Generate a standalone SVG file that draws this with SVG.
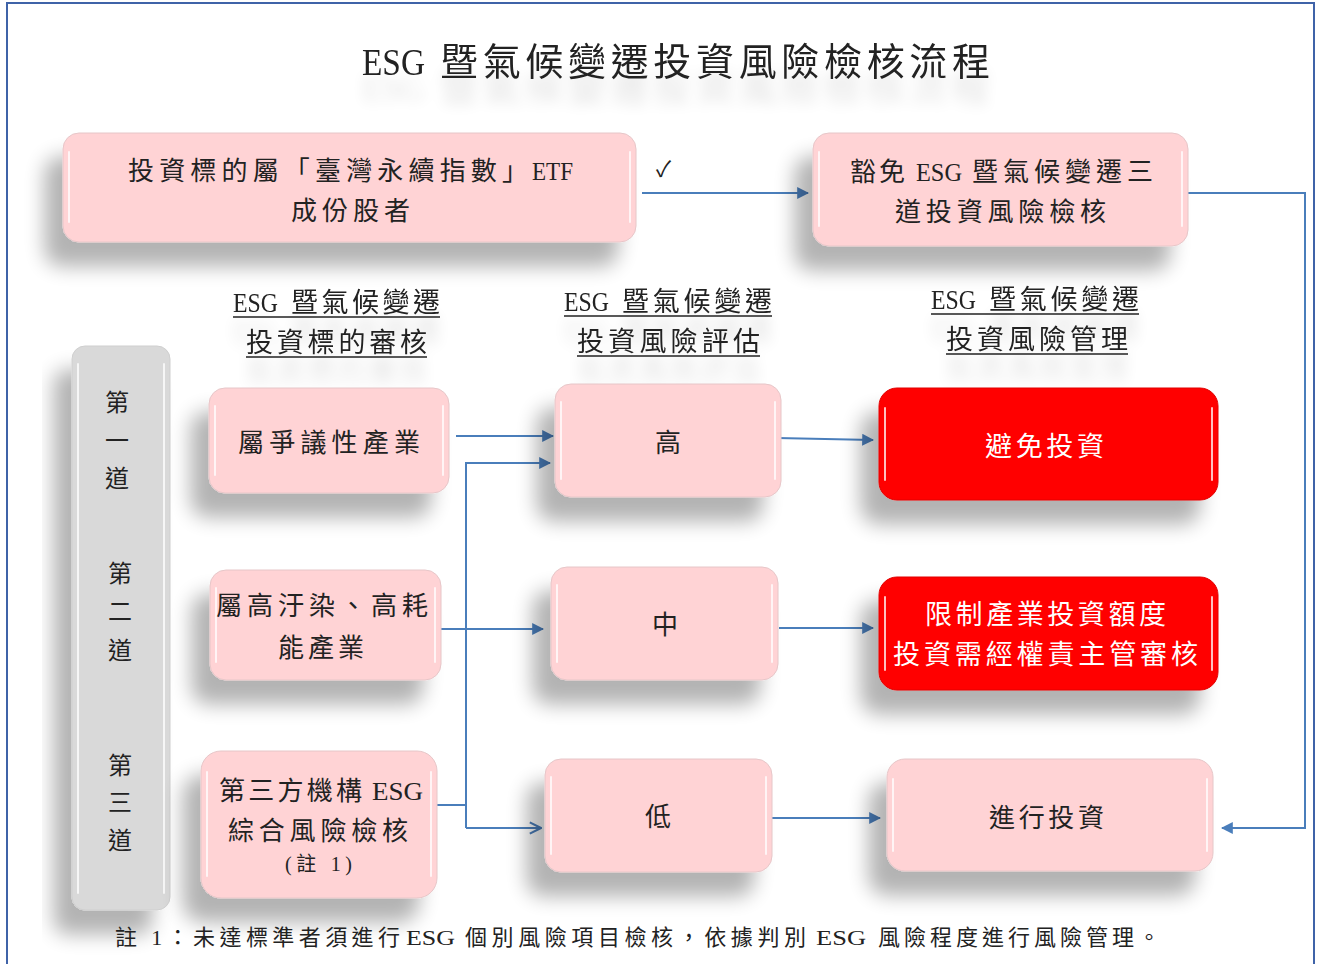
<svg xmlns="http://www.w3.org/2000/svg" width="1320" height="964" viewBox="0 0 1320 964">
<style>
.t{font-family:"Liberation Serif","Noto Sans CJK TC",serif;fill:#222;}
.c{text-anchor:middle;}
.pink{fill:#ffd3d5;stroke:#e6c6c8;stroke-width:1;}
.red{fill:#ff0000;stroke:#e00000;stroke-width:1;}
.gray{fill:#d9d9d9;stroke:#cfcfcf;stroke-width:1;}
.hl{stroke:#fff;stroke-width:2;stroke-linecap:round;fill:none;opacity:0.75;}
.w{fill:#fff;}
.ln{stroke:#4a7ebb;stroke-width:2;fill:none;}
.ul{stroke:#222;stroke-width:1.5;}
</style>
<defs>
<filter id="sh" x="-30%" y="-30%" width="160%" height="190%">
<feGaussianBlur in="SourceAlpha" stdDeviation="10"/>
<feOffset dx="-18" dy="24" result="o"/>
<feComponentTransfer><feFuncA type="linear" slope="0.3"/></feComponentTransfer>
<feMerge><feMergeNode/><feMergeNode in="SourceGraphic"/></feMerge>
</filter>
<filter id="tsh" x="-10%" y="-50%" width="120%" height="250%">
<feGaussianBlur in="SourceAlpha" stdDeviation="7"/>
<feOffset dx="0" dy="26"/>
<feComponentTransfer><feFuncA type="linear" slope="0.12"/></feComponentTransfer>
<feMerge><feMergeNode/><feMergeNode in="SourceGraphic"/></feMerge>
</filter>
<marker id="ar2" viewBox="0 0 10 10" refX="9" refY="5" markerWidth="6" markerHeight="6" orient="auto">
<path d="M0,0 L10,5 L0,10 z" fill="#4a7ebb"/>
</marker>
<marker id="op" viewBox="0 0 10 10" refX="9" refY="5" markerWidth="7" markerHeight="7" orient="auto">
<path d="M1,1 L9,5 L1,9" fill="none" stroke="#4a7ebb" stroke-width="1.5"/>
</marker>
</defs>
<rect x="0" y="0" width="1320" height="964" fill="#fff"/>
<rect x="7" y="3" width="1307" height="975" fill="none" stroke="#3f63a8" stroke-width="2"/>

<g id="title" filter="url(#tsh)">
<text class="t" x="362" y="75" font-size="38" textLength="63" lengthAdjust="spacingAndGlyphs">ESG</text>
<text class="t" x="440" y="75" font-size="38" textLength="550" lengthAdjust="spacing">暨氣候變遷投資風險檢核流程</text>
</g>

<g id="connectors">
<line class="ln" x1="642" y1="193" x2="808" y2="193" marker-end="url(#ar2)"/>
<polyline class="ln" points="1188,193 1305,193 1305,828 1222,828" marker-end="url(#ar2)"/>
<line class="ln" x1="456" y1="436" x2="553" y2="436" marker-end="url(#ar2)"/>
<polyline class="ln" points="466,828 466,463 550,463" marker-end="url(#ar2)"/>
<line class="ln" x1="466" y1="828" x2="541" y2="828" marker-end="url(#op)"/>
<line class="ln" x1="437" y1="805" x2="466" y2="805"/>
<line class="ln" x1="441" y1="629" x2="543" y2="629" marker-end="url(#ar2)"/>
<line class="ln" x1="777" y1="438" x2="873" y2="440" marker-end="url(#ar2)"/>
<line class="ln" x1="779" y1="628" x2="873" y2="628" marker-end="url(#ar2)"/>
<line class="ln" x1="772" y1="818" x2="880" y2="818" marker-end="url(#ar2)"/>
</g>
<text class="t" x="656" y="177" font-size="22">✓</text>

<g id="n_etf">
<rect class="pink" x="63" y="133" width="573" height="109" rx="16" filter="url(#sh)"/>
<line class="hl" x1="69" y1="152" x2="69" y2="222"/><line class="hl" x1="630" y1="152" x2="630" y2="222"/>
<text class="t" x="128" y="180" font-size="26" textLength="400" lengthAdjust="spacing">投資標的屬「臺灣永續指數」</text>
<text class="t" x="532" y="180" font-size="26" textLength="41" lengthAdjust="spacingAndGlyphs">ETF</text>
<text class="t" x="291" y="220" font-size="26" textLength="119" lengthAdjust="spacing">成份股者</text>
</g>

<g id="n_exempt">
<rect class="pink" x="813" y="133" width="375" height="113" rx="16" filter="url(#sh)"/>
<line class="hl" x1="819" y1="152" x2="819" y2="226"/><line class="hl" x1="1182" y1="152" x2="1182" y2="226"/>
<text class="t" x="850" y="181" font-size="26" textLength="55" lengthAdjust="spacing">豁免</text>
<text class="t" x="916" y="181" font-size="26" textLength="46" lengthAdjust="spacingAndGlyphs">ESG</text>
<text class="t" x="972" y="181" font-size="26" textLength="181" lengthAdjust="spacing">暨氣候變遷三</text>
<text class="t" x="895" y="221" font-size="26" textLength="211" lengthAdjust="spacing">道投資風險檢核</text>
</g>

<g id="h1" filter="url(#tsh)">
<text class="t" x="233" y="312" font-size="27" textLength="45" lengthAdjust="spacingAndGlyphs">ESG</text>
<text class="t" x="291" y="312" font-size="27" textLength="149" lengthAdjust="spacing">暨氣候變遷</text>
<text class="t" x="246" y="352" font-size="27" textLength="181" lengthAdjust="spacing">投資標的審核</text>
<line class="ul" x1="233" y1="317" x2="440" y2="317"/><line class="ul" x1="246" y1="357" x2="427" y2="357"/>
</g>
<g id="h2" filter="url(#tsh)">
<text class="t" x="564" y="311" font-size="27" textLength="45" lengthAdjust="spacingAndGlyphs">ESG</text>
<text class="t" x="622" y="311" font-size="27" textLength="150" lengthAdjust="spacing">暨氣候變遷</text>
<text class="t" x="577" y="351" font-size="27" textLength="183" lengthAdjust="spacing">投資風險評估</text>
<line class="ul" x1="564" y1="316" x2="772" y2="316"/><line class="ul" x1="577" y1="356" x2="760" y2="356"/>
</g>
<g id="h3" filter="url(#tsh)">
<text class="t" x="931" y="309" font-size="27" textLength="45" lengthAdjust="spacingAndGlyphs">ESG</text>
<text class="t" x="989" y="309" font-size="27" textLength="150" lengthAdjust="spacing">暨氣候變遷</text>
<text class="t" x="946" y="349" font-size="27" textLength="182" lengthAdjust="spacing">投資風險管理</text>
<line class="ul" x1="931" y1="314" x2="1139" y2="314"/><line class="ul" x1="946" y1="354" x2="1128" y2="354"/>
</g>

<g id="lanes">
<rect class="gray" x="72" y="346" width="98" height="564" rx="13" filter="url(#sh)"/>
<line class="hl" x1="78" y1="364" x2="78" y2="893"/><line class="hl" x1="164" y1="364" x2="164" y2="893"/>
<g class="t c" font-size="24">
<text x="117" y="411">第</text><text x="117" y="449">一</text><text x="117" y="487">道</text>
<text x="120" y="582">第</text><text x="120" y="620">二</text><text x="120" y="659">道</text>
<text x="120" y="774">第</text><text x="120" y="811">三</text><text x="120" y="849">道</text>
</g>
</g>

<g id="n_controversial">
<rect class="pink" x="209" y="388" width="240" height="105" rx="16" filter="url(#sh)"/>
<line class="hl" x1="215" y1="406" x2="215" y2="475"/><line class="hl" x1="443" y1="406" x2="443" y2="475"/>
<text class="t" x="238" y="452" font-size="26" textLength="182" lengthAdjust="spacing">屬爭議性產業</text>
</g>

<g id="n_pollution">
<rect class="pink" x="210" y="570" width="231" height="110" rx="16" filter="url(#sh)"/>
<line class="hl" x1="216" y1="588" x2="216" y2="662"/><line class="hl" x1="435" y1="588" x2="435" y2="662"/>
<text class="t" x="216" y="615" font-size="26" textLength="212" lengthAdjust="spacing">屬高汙染、高耗</text>
<text class="t" x="278" y="657" font-size="26" textLength="86" lengthAdjust="spacing">能產業</text>
</g>

<g id="n_thirdparty">
<rect class="pink" x="201" y="751" width="236" height="147" rx="20" filter="url(#sh)"/>
<line class="hl" x1="207" y1="772" x2="207" y2="876"/><line class="hl" x1="431" y1="772" x2="431" y2="876"/>
<text class="t" x="219" y="800" font-size="26" textLength="143" lengthAdjust="spacing">第三方機構</text>
<text class="t" x="372" y="800" font-size="26" textLength="51" lengthAdjust="spacingAndGlyphs">ESG</text>
<text class="t" x="228" y="840" font-size="26" textLength="180" lengthAdjust="spacing">綜合風險檢核</text>
<text class="t" x="285" y="871" font-size="20" textLength="67" lengthAdjust="spacing">(註 1)</text>
</g>

<g id="n_high">
<rect class="pink" x="555" y="384" width="226" height="113" rx="16" filter="url(#sh)"/>
<line class="hl" x1="561" y1="402" x2="561" y2="479"/><line class="hl" x1="775" y1="402" x2="775" y2="479"/>
<text class="t c" x="668" y="452" font-size="26">高</text>
</g>
<g id="n_mid">
<rect class="pink" x="551" y="567" width="227" height="113" rx="16" filter="url(#sh)"/>
<line class="hl" x1="557" y1="585" x2="557" y2="662"/><line class="hl" x1="772" y1="585" x2="772" y2="662"/>
<text class="t c" x="665" y="634" font-size="26">中</text>
</g>
<g id="n_low">
<rect class="pink" x="545" y="759" width="227" height="113" rx="16" filter="url(#sh)"/>
<line class="hl" x1="551" y1="777" x2="551" y2="854"/><line class="hl" x1="766" y1="777" x2="766" y2="854"/>
<text class="t c" x="658" y="826" font-size="26">低</text>
</g>

<g id="n_avoid">
<rect class="red" x="879" y="388" width="339" height="112" rx="18" filter="url(#sh)"/>
<line class="hl" x1="885" y1="408" x2="885" y2="480" opacity="0.5"/><line class="hl" x1="1212" y1="408" x2="1212" y2="480" opacity="0.5"/>
<text class="t w" x="985" y="456" font-size="27" textLength="119" lengthAdjust="spacing">避免投資</text>
</g>
<g id="n_limit">
<rect class="red" x="879" y="577" width="339" height="113" rx="18" filter="url(#sh)"/>
<line class="hl" x1="885" y1="597" x2="885" y2="670" opacity="0.5"/><line class="hl" x1="1212" y1="597" x2="1212" y2="670" opacity="0.5"/>
<text class="t w" x="925" y="624" font-size="27" textLength="241" lengthAdjust="spacing">限制產業投資額度</text>
<text class="t w" x="893" y="664" font-size="27" textLength="305" lengthAdjust="spacing">投資需經權責主管審核</text>
</g>
<g id="n_invest">
<rect class="pink" x="887" y="759" width="326" height="112" rx="18" filter="url(#sh)"/>
<line class="hl" x1="893" y1="779" x2="893" y2="851"/><line class="hl" x1="1207" y1="779" x2="1207" y2="851"/>
<text class="t" x="989" y="827" font-size="26" textLength="115" lengthAdjust="spacing">進行投資</text>
</g>

<g id="footnote" font-size="22">
<text class="t" x="115" y="945" textLength="285" lengthAdjust="spacing">註 1：未達標準者須進行</text>
<text class="t" x="406" y="945" textLength="49" lengthAdjust="spacingAndGlyphs">ESG</text>
<text class="t" x="465" y="945" textLength="341" lengthAdjust="spacing">個別風險項目檢核，依據判別</text>
<text class="t" x="816" y="945" textLength="50" lengthAdjust="spacingAndGlyphs">ESG</text>
<text class="t" x="878" y="945" textLength="282" lengthAdjust="spacing">風險程度進行風險管理。</text>
</g>
</svg>
